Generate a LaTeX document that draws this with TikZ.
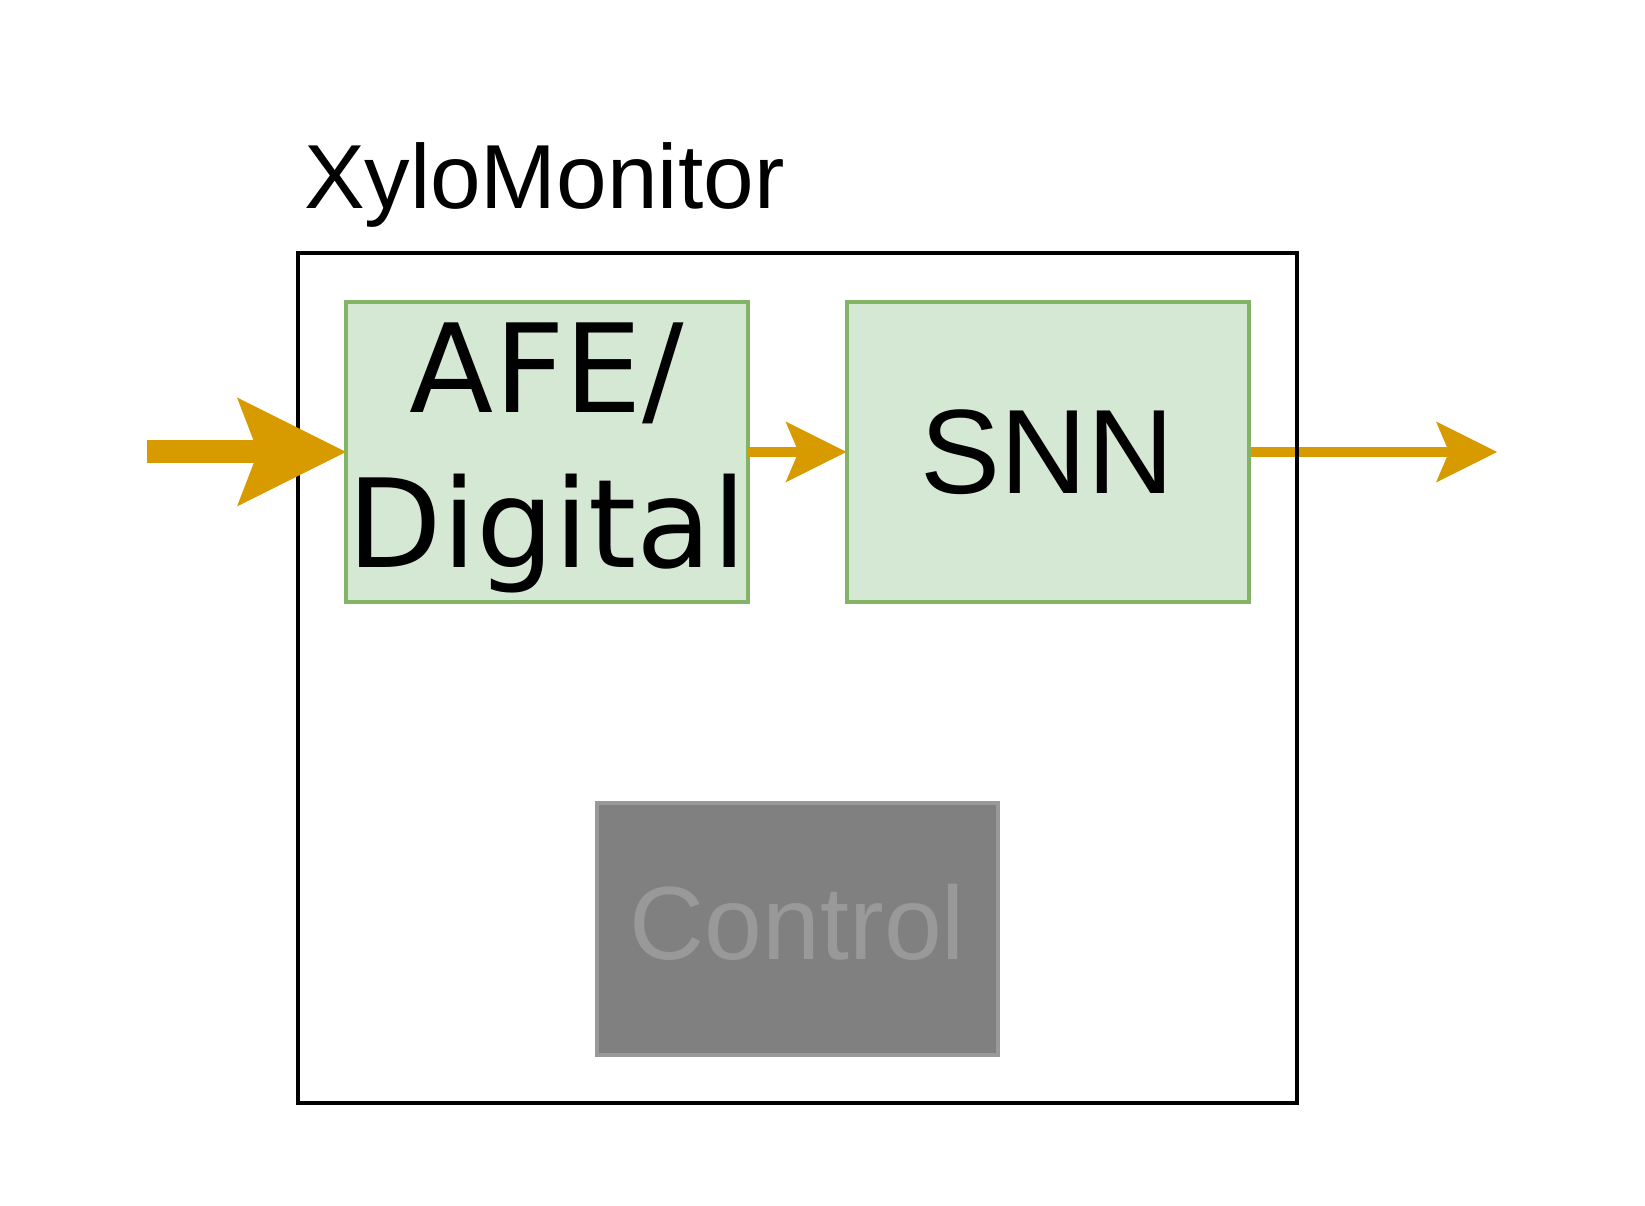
\documentclass[tikz,border=0pt]{standalone}
\usepackage{fontspec}
\setmainfont{Liberation Sans}
\newfontfamily\dejavu{DejaVu Sans}
\usetikzlibrary{arrows.meta,backgrounds}
\definecolor{flowc}{HTML}{D79B00}
\definecolor{gfill}{HTML}{D5E8D4}
\definecolor{gline}{HTML}{82B366}
\definecolor{cfill}{HTML}{808080}
\definecolor{cline}{HTML}{999999}
\definecolor{ctext}{HTML}{999999}
\begin{document}
\begin{tikzpicture}[x=1pt,y=1pt,
  frame/.style={draw=black,line width=3.8pt,minimum width=999pt,minimum height=850pt,inner sep=0pt,outer sep=0pt},
  block/.style={draw=gline,fill=gfill,line width=4pt,minimum width=402pt,minimum height=300pt,inner sep=0pt,outer sep=0pt,align=center},
  ctrlbox/.style={draw=cline,fill=cfill,text=ctext,line width=4.5pt,minimum width=401pt,minimum height=252pt,inner sep=0pt,outer sep=0pt,text depth=15pt,font=\fontsize{104}{120}\selectfont},
  titletext/.style={inner sep=0pt,outer sep=0pt,font=\fontsize{91}{100}\selectfont},
  bigflow/.style={draw=flowc,line width=23pt,-{Stealth[length=109pt,width=109pt,inset=21pt,line width=0pt]}},
  smallflow/.style={draw=flowc,line width=10pt,-{Stealth[length=61pt,width=61pt,inset=13pt,line width=0pt]}}]
\useasboundingbox (0,0) rectangle (1645,1205);
\node[frame] (xylo) at (797.5,527) {};
\node[titletext,anchor=base west] (title) at (304,996) {XyloMonitor};
\node[block,font=\dejavu\fontsize{123}{155}\selectfont] (afe) at (547,753) {AFE/\rule{0pt}{102pt}\\Digital};
\node[block,font=\fontsize{120}{140}\selectfont] (snn) at (1047.5,753) {SNN};
\node[ctrlbox] (ctrl) at (797.5,276) {Control};
\coordinate (in) at (147,753);
\coordinate (out) at (1497,753);
\draw[bigflow] (in) -- (afe.west);
\draw[smallflow] (afe.east) -- (snn.west);
\begin{scope}[on background layer]
\draw[smallflow] (snn.east) -- (out);
\end{scope}
\end{tikzpicture}
\end{document}
